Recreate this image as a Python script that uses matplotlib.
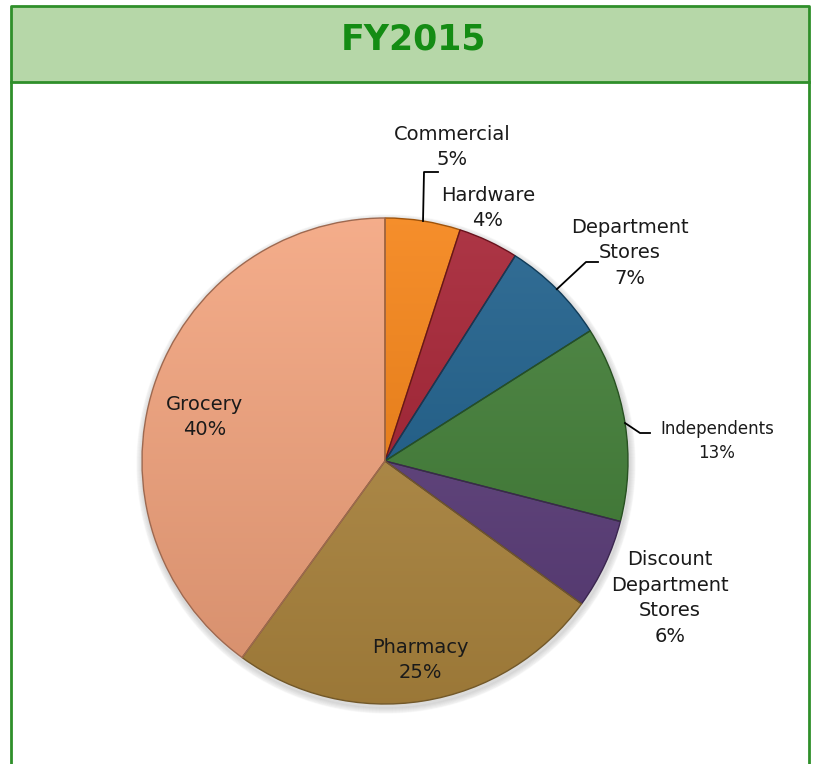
import matplotlib.pyplot as plt
import numpy as np
from matplotlib.colors import to_rgb
from matplotlib.patches import Rectangle

W, H = 817, 764

title = "FY2015"
labels = ["Commercial", "Hardware", "Department\nStores", "Independents",
          "Discount\nDepartment\nStores", "Pharmacy", "Grocery"]
values = [5, 4, 7, 13, 6, 25, 40]
colors = ["#f47f0f", "#a21b2d", "#185b88", "#3e7c33", "#5a3b79", "#b0883f", "#f3a27b"]

# label placement (pixel coords from top-left), leader lines
label_pos = [(452, 147), (488, 208), (630, 253), (717, 441), (670, 598), (420, 660), (205, 417)]
label_size = [14, 14, 14, 12, 14, 14, 14]
leaders = {0: [(424, 172), (438, 172)],
           2: [(586, 262), (598, 262)],
           3: [(640, 433), (650, 433)]}

cx, cy, r = 385, 461, 243

fig = plt.figure(figsize=(W / 100, H / 100), dpi=100)
ax = fig.add_axes([0, 0, 1, 1])


def fy(y):
    return H - y


# frame and header band
ax.add_patch(Rectangle((11, fy(82)), 798, 76, facecolor="#b6d7a8", edgecolor="none", zorder=1))
ax.plot([11, 11, 809, 809], [-5, fy(6), fy(6), -5], color="#2f8f2a", lw=2, zorder=2)
ax.plot([11, 809], [fy(82), fy(82)], color="#2f8f2a", lw=2, zorder=2)
ax.text(413, fy(40), title, ha="center", va="center", fontsize=25, fontweight="bold",
        color="#148c14", family=["Liberation Sans Narrow", "DejaVu Sans"], zorder=3)

# soft shadow under the pie
for k in range(6):
    ax.add_patch(plt.Circle((cx + 1, fy(cy) - 3), r + 1 + k, color="black", alpha=0.025, zorder=2))

wedges, _ = ax.pie(values, colors=colors, startangle=90, counterclock=False,
                   center=(cx, fy(cy)), radius=r, frame=True,
                   wedgeprops=dict(edgecolor="none", zorder=3))
ax.set_xlim(0, W)
ax.set_ylim(0, H)
ax.axis("off")

# vertical shading inside each wedge to mimic the bevelled look
yy = np.linspace(1, 0, 256)[:, None]
for w, c in zip(wedges, colors):
    base = np.array(to_rgb(c))
    light = base + (1 - base) * 0.12
    dark = base * 0.88
    img = light[None, None, :] * yy[..., None] + dark[None, None, :] * (1 - yy[..., None])
    img = np.repeat(img, 2, axis=1)
    im = ax.imshow(img, extent=[cx - r, cx + r, fy(cy + r), fy(cy - r)], aspect="auto", zorder=4)
    im.set_clip_path(w)
    w.set_facecolor("none")
    w.set_edgecolor(tuple(base * 0.65))
    w.set_linewidth(1.0)
    w.set_zorder(5)

total = sum(values)
for i, (lab, v) in enumerate(zip(labels, values)):
    x, y = label_pos[i]
    ax.text(x, fy(y), f"{lab}\n{round(100 * v / total)}%", ha="center", va="center",
            fontsize=label_size[i], color="#1a1a1a", linespacing=1.45, zorder=6)
    if i in leaders:
        w = wedges[i]
        mid = np.deg2rad((w.theta1 + w.theta2) / 2)
        pts = [(cx + r * np.cos(mid), fy(cy) + r * np.sin(mid))]
        pts += [(px, fy(py)) for px, py in leaders[i]]
        xs, ys = zip(*pts)
        ax.plot(xs, ys, color="black", lw=1.3, zorder=6)

fig.savefig("out.png", dpi=100)
